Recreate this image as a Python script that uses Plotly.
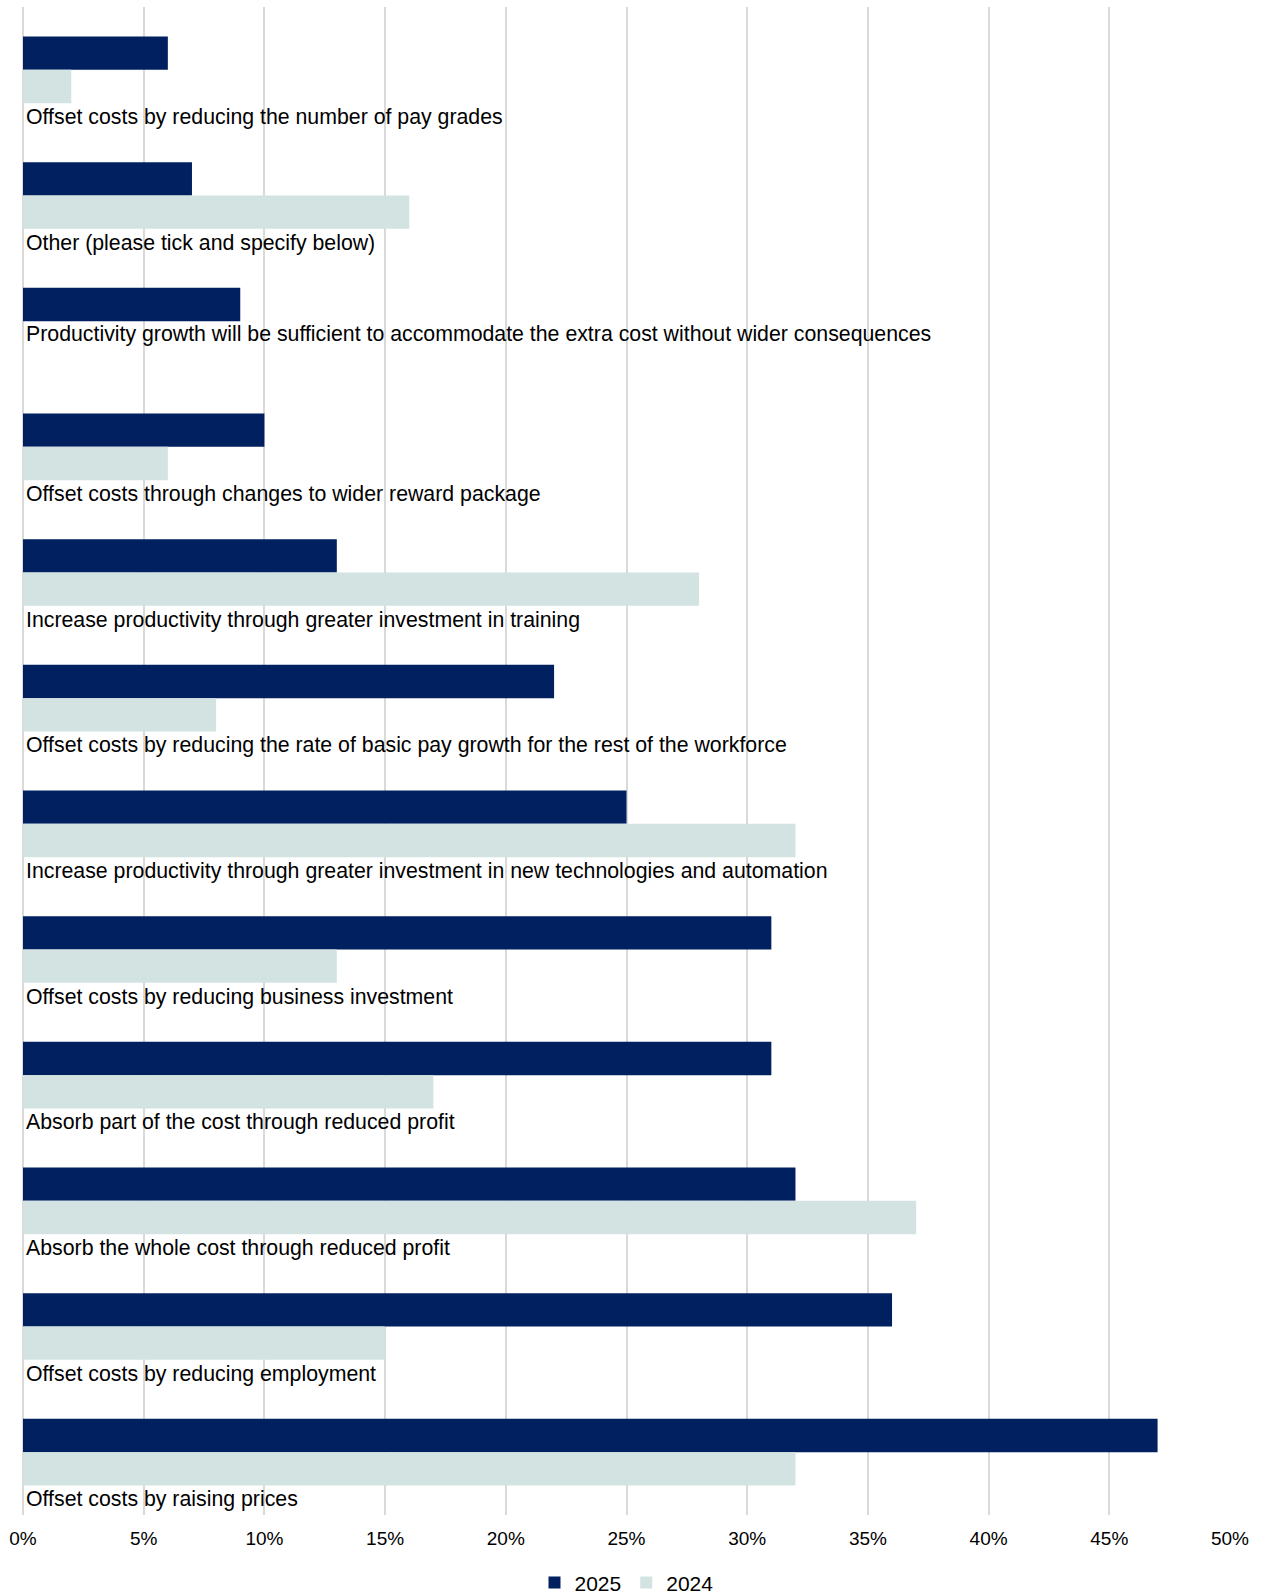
import plotly.graph_objects as go

categories = [
    "Offset costs by reducing the number of pay grades",
    "Other (please tick and specify below)",
    "Productivity growth will be sufficient to accommodate the extra cost without wider consequences",
    "Offset costs through changes to wider reward package",
    "Increase productivity through greater investment in training",
    "Offset costs by reducing the rate of basic pay growth for the rest of the workforce",
    "Increase productivity through greater investment in new technologies and automation",
    "Offset costs by reducing business investment",
    "Absorb part of the cost through reduced profit",
    "Absorb the whole cost through reduced profit",
    "Offset costs by reducing employment",
    "Offset costs by raising prices",
]
values_2025 = [6, 7, 9, 10, 13, 22, 25, 31, 31, 32, 36, 47]
values_2024 = [2, 16, None, 6, 28, 8, 32, 13, 17, 37, 15, 32]
tick_vals = [0, 5, 10, 15, 20, 25, 30, 35, 40, 45, 50]
tick_text = ["0%", "5%", "10%", "15%", "20%", "25%", "30%", "35%", "40%", "45%", "50%"]

NAVY = "#002060"
LIGHT = "#D2E3E2"
FONT = "Liberation Sans, Arial, sans-serif"

fig = go.Figure()
fig.add_trace(go.Bar(name="2025", y=categories, x=values_2025, orientation="h",
                     marker=dict(color=NAVY, line=dict(width=0))))
fig.add_trace(go.Bar(name="2024", y=categories, x=values_2024, orientation="h",
                     marker=dict(color=LIGHT, line=dict(width=0))))

for cat, v24 in zip(categories, values_2024):
    shift = -47 if v24 is not None else -13
    fig.add_annotation(x=0, y=cat, xref="x", yref="y", text=cat, showarrow=False,
                       xanchor="left", yanchor="middle", xshift=1, yshift=shift,
                       font=dict(family=FONT, size=21.3, color="#000000"))

fig.update_layout(
    width=1264, height=1595,
    margin=dict(l=23, r=34, t=7, b=80, autoexpand=False),
    paper_bgcolor="white", plot_bgcolor="white",
    barmode="group", bargap=0.47, bargroupgap=0,
    font=dict(family=FONT, color="#000000"),
    showlegend=True,
    legend=dict(orientation="h", x=0.5, xanchor="center", y=-0.045, yanchor="middle",
                font=dict(family=FONT, size=21, color="#000000"),
                itemwidth=30, tracegroupgap=0, bgcolor="rgba(0,0,0,0)"),
)
fig.update_xaxes(range=[0, 50], tickvals=tick_vals, ticktext=tick_text,
                 showgrid=True, gridcolor="#D9D9D9", gridwidth=2,
                 zeroline=True, zerolinecolor="#D9D9D9", zerolinewidth=2,
                 showline=False, ticks="outside", ticklen=6, tickcolor="rgba(0,0,0,0)",
                 automargin=False,
                 tickfont=dict(family=FONT, size=19, color="#000000"))
fig.update_yaxes(categoryorder="array", categoryarray=categories, autorange="reversed",
                 showticklabels=False, showgrid=False, zeroline=False, showline=False,
                 automargin=False)

fig.write_html("out.html")
